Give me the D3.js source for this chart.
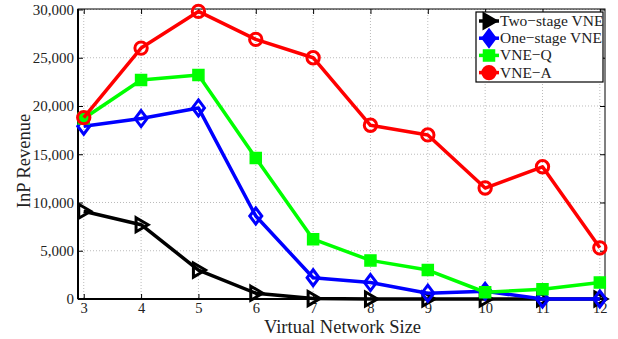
<!DOCTYPE html>
<html>
<head>
<meta charset="utf-8">
<script src="https://cdn.jsdelivr.net/npm/d3@7"></script>
<style>
  html, body { margin: 0; padding: 0; background: #fff; }
  svg { display: block; font-family: "Liberation Serif", "Times New Roman", serif; }
</style>
</head>
<body>
<svg id="chart" width="618" height="339"></svg>
<script>
// Virtual network size on the x axis
const sizes = [3, 4, 5, 6, 7, 8, 9, 10, 11, 12];

// InP revenue per algorithm
const twoStage = [9100, 7700, 3000, 600, 50, 0, 0, 0, 0, 0];
const oneStage = [17900, 18700, 19800, 8600, 2200, 1700, 600, 800, 0, 0];
const vneQ     = [18700, 22700, 23200, 14600, 6200, 4000, 3000, 700, 1000, 1700];
const vneA     = [18800, 26000, 29800, 26900, 25000, 18000, 17000, 11500, 13700, 5300];

const seriesNames = ["Two\u2212stage VNE", "One\u2212stage VNE", "VNE\u2212Q", "VNE\u2212A"];
const yTicks = [0, 5000, 10000, 15000, 20000, 25000, 30000];

const series = [
  { name: seriesNames[0], values: twoStage, color: "#000000", marker: "triangle" },
  { name: seriesNames[1], values: oneStage, color: "#0000ff", marker: "diamond" },
  { name: seriesNames[2], values: vneQ,     color: "#00ff00", marker: "square" },
  { name: seriesNames[3], values: vneA,     color: "#ff0000", marker: "circle" }
];

const svg = d3.select("#chart");
const m = { left: 78, right: 605, top: 9, bottom: 299 };

const x = d3.scaleLinear().domain([2.9, 12.09]).range([m.left, m.right]);
const y = d3.scaleLinear().domain([0, 30050]).range([m.bottom, m.top]);

// dotted grid
const grid = svg.append("g");
grid.selectAll("line.gx").data(sizes).enter().append("line")
  .attr("x1", d => x(d)).attr("x2", d => x(d))
  .attr("y1", m.top).attr("y2", m.bottom)
  .attr("stroke", "#bbbbbb").attr("stroke-width", 1).attr("stroke-dasharray", "1,2");
grid.selectAll("line.gy").data(yTicks).enter().append("line")
  .attr("x1", m.left).attr("x2", m.right)
  .attr("y1", d => y(d)).attr("y2", d => y(d))
  .attr("stroke", "#bbbbbb").attr("stroke-width", 1).attr("stroke-dasharray", "1,2");

// axes with inward ticks on all four sides
const fmt = d3.format(",");
const bottomAxis = svg.append("g").attr("transform", `translate(0,${m.bottom})`)
  .call(d3.axisBottom(x).tickValues(sizes).tickSize(-5).tickSizeOuter(0).tickPadding(4));
const topAxis = svg.append("g").attr("transform", `translate(0,${m.top})`)
  .call(d3.axisTop(x).tickValues(sizes).tickSize(-5).tickSizeOuter(0).tickFormat(""));
const leftAxis = svg.append("g").attr("transform", `translate(${m.left},0)`)
  .call(d3.axisLeft(y).tickValues(yTicks).tickSize(-5).tickSizeOuter(0).tickPadding(4).tickFormat(fmt));
const rightAxis = svg.append("g").attr("transform", `translate(${m.right},0)`)
  .call(d3.axisRight(y).tickValues(yTicks).tickSize(-5).tickSizeOuter(0).tickFormat(""));

[bottomAxis, topAxis, leftAxis, rightAxis].forEach(g => {
  g.select(".domain").remove();
  g.selectAll(".tick line").attr("stroke", "#000").attr("stroke-width", 1);
  g.selectAll("text").attr("font-family", "Liberation Serif, serif")
    .attr("font-size", 15).attr("fill", "#222");
});
bottomAxis.selectAll("text").attr("font-size", 14.5);

// box frame
svg.append("rect")
  .attr("x", m.left).attr("y", m.top)
  .attr("width", m.right - m.left).attr("height", m.bottom - m.top)
  .attr("fill", "none").attr("stroke", "#000").attr("stroke-width", 1);
svg.append("line").attr("x1", m.left).attr("x2", m.right)
  .attr("y1", m.bottom).attr("y2", m.bottom).attr("stroke", "#000").attr("stroke-width", 2);
svg.append("line").attr("x1", m.left).attr("x2", m.left)
  .attr("y1", m.top).attr("y2", m.bottom).attr("stroke", "#000").attr("stroke-width", 2);

// marker shapes
const symbolPath = {
  triangle: "M-5,-7 L7,0 L-5,7 Z",
  diamond: "M0,-8 L6,0 L0,8 L-6,0 Z",
  square: "M-5.5,-5.5 H5.5 V5.5 H-5.5 Z",
  circle: d3.symbol().type(d3.symbolCircle).size(120)()
};

function drawMarker(g, kind, color, cx, cy, solid) {
  g.append("path")
    .attr("d", symbolPath[kind])
    .attr("transform", `translate(${cx},${cy})`)
    .attr("fill", (kind === "square" || solid) ? color : "none")
    .attr("stroke", color)
    .attr("stroke-width", kind === "square" ? 1.5 : 3)
    .attr("stroke-linejoin", "miter");
}

const line = d3.line().x((d, i) => x(sizes[i])).y(d => y(d));
const plot = svg.append("g");

series.forEach(s => {
  const g = plot.append("g");
  g.append("path").datum(s.values)
    .attr("d", line)
    .attr("fill", "none")
    .attr("stroke", s.color)
    .attr("stroke-width", 3.5)
    .attr("stroke-linejoin", "round");
  s.values.forEach((v, i) => drawMarker(g, s.marker, s.color, x(sizes[i]), y(v), false));
});

// axis titles
svg.append("text")
  .attr("x", (m.left + m.right) / 2 + 1).attr("y", 333)
  .attr("text-anchor", "middle").attr("font-size", 18.5).attr("fill", "#222")
  .text("Virtual Network Size");
svg.append("text")
  .attr("transform", `translate(30,161) rotate(-90)`)
  .attr("text-anchor", "middle").attr("font-size", 18.5).attr("fill", "#222")
  .text("InP Revenue");

// legend
const lg = svg.append("g");
lg.append("rect")
  .attr("x", 476).attr("y", 12)
  .attr("width", 127).attr("height", 70)
  .attr("fill", "#fff").attr("stroke", "#000").attr("stroke-width", 1.2);
series.forEach((s, i) => {
  const cy = 21 + i * 17.2;
  lg.append("line").attr("x1", 479).attr("x2", 499).attr("y1", cy).attr("y2", cy)
    .attr("stroke", s.color).attr("stroke-width", 3.5);
  drawMarker(lg, s.marker, s.color, 489, cy, true);
  lg.append("text")
    .attr("x", 500).attr("y", cy + 5)
    .attr("font-size", 15.5).attr("fill", "#222")
    .text(s.name);
});
</script>
</body>
</html>
